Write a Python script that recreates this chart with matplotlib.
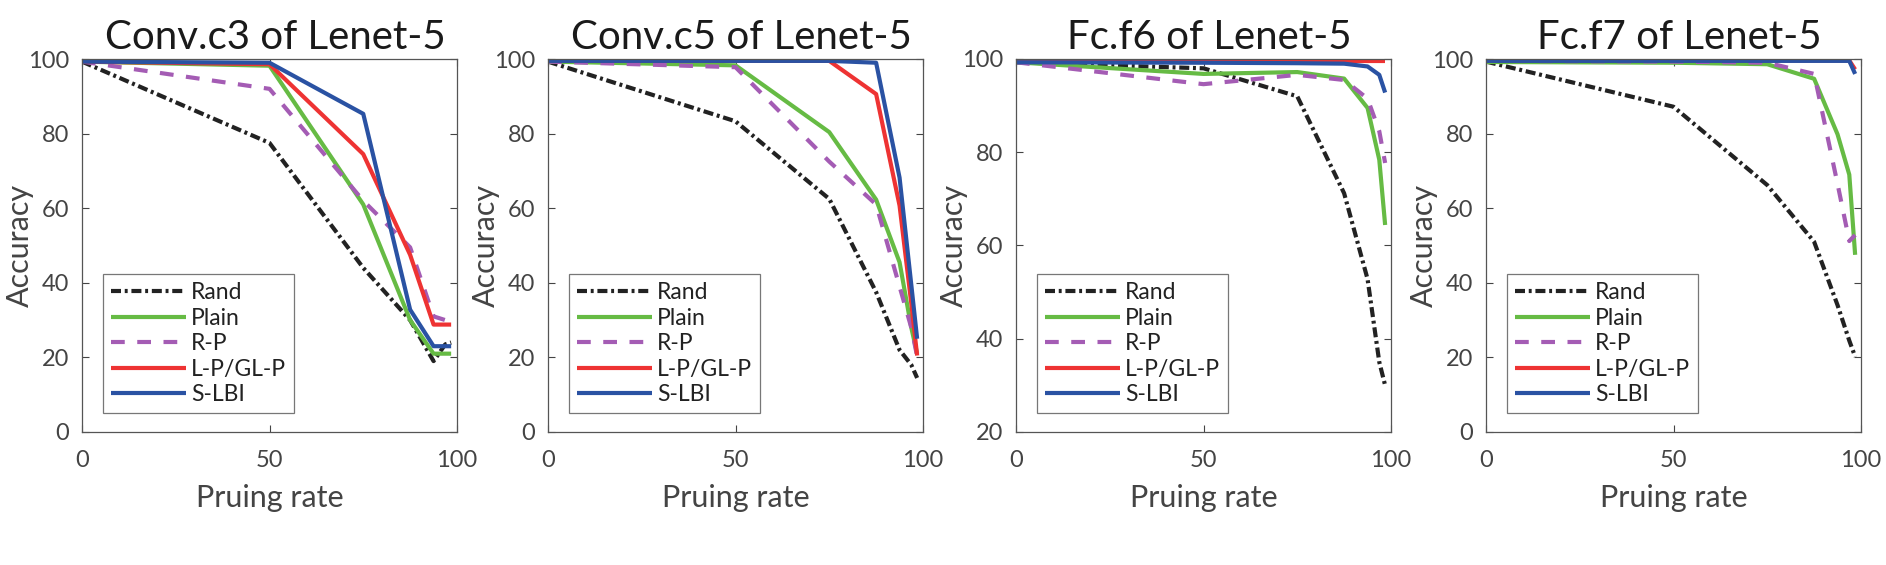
import matplotlib
matplotlib.use("Agg")
import matplotlib.pyplot as plt

plt.rcParams['font.family'] = ['Lato', 'DejaVu Sans']

# ---------------- data ----------------
rates = [0, 50, 75, 87.5, 93.75, 96.875, 98.4375]
titles = ["Conv.c3 of Lenet-5", "Conv.c5 of Lenet-5", "Fc.f6 of Lenet-5", "Fc.f7 of Lenet-5"]
methods = ["Rand", "Plain", "R-P", "L-P/GL-P", "S-LBI"]

# panel 1: Conv.c3
c3_rand  = [99.3, 77.5, 44.0, 30.0, 19.0, 23.5, 24.0]
c3_plain = [99.3, 98.2, 61.0, 30.0, 21.0, 21.0, 21.0]
c3_rp    = [99.3, 92.0, 62.0, 49.5, 31.0, 30.0, 30.0]
c3_lp    = [99.3, 98.6, 74.5, 47.5, 28.8, 28.8, 28.8]
c3_slbi  = [99.3, 99.0, 85.3, 32.8, 23.0, 23.0, 23.0]

# panel 2: Conv.c5
c5_rand  = [99.3, 83.3, 62.5, 37.5, 22.0, 18.0, 14.5]
c5_plain = [99.3, 98.3, 80.4, 62.3, 45.5, 28.0, 21.0]
c5_rp    = [99.3, 97.8, 72.5, 61.0, 39.0, 28.0, 20.3]
c5_lp    = [99.5, 99.5, 99.5, 90.6, 60.7, 34.5, 20.5]
c5_slbi  = [99.5, 99.5, 99.5, 99.0, 68.2, 39.5, 25.0]

# panel 3: Fc.f6
f6_rand  = [99.3, 98.0, 92.0, 71.2, 52.8, 35.0, 30.0]
f6_plain = [99.3, 96.8, 97.2, 95.8, 89.5, 78.4, 64.4]
f6_rp    = [99.3, 94.6, 96.6, 95.5, 91.5, 84.5, 77.7]
f6_lp    = [99.6, 99.6, 99.6, 99.6, 99.6, 99.6, 99.6]
f6_slbi  = [99.3, 99.2, 99.1, 99.0, 98.4, 96.6, 92.8]

# panel 4: Fc.f7
f7_rand  = [99.3, 87.2, 66.2, 51.0, 34.0, 24.5, 20.2]
f7_plain = [99.2, 99.0, 98.6, 94.7, 79.8, 69.0, 47.5]
f7_rp    = [99.5, 99.3, 99.0, 96.0, 66.5, 51.2, 52.8]
f7_lp    = [99.6, 99.6, 99.6, 99.6, 99.6, 99.6, 97.2]
f7_slbi  = [99.5, 99.5, 99.5, 99.5, 99.5, 99.5, 96.0]

panels = [
    [c3_rand, c3_plain, c3_rp, c3_lp, c3_slbi],
    [c5_rand, c5_plain, c5_rp, c5_lp, c5_slbi],
    [f6_rand, f6_plain, f6_rp, f6_lp, f6_slbi],
    [f7_rand, f7_plain, f7_rp, f7_lp, f7_slbi],
]
ylims = [(0, 100), (0, 100), (20, 100), (0, 100)]

# ---------------- style ----------------
colors = ["#222222", "#66bb44", "#a45cb4", "#ee3333", "#2a52a3"]
styles = [(0, (2.4, 0.9, 0.7, 0.9)), "-", (0, (3.3, 3.0)), "-", "-"]
lw = 3.0
gray = "#444444"

fig = plt.figure(figsize=(18.86, 5.65), dpi=100)
lefts = [82, 548, 1016, 1486]
for i, left in enumerate(lefts):
    ax = fig.add_axes([left / 1886, (565 - 432) / 565, 375 / 1886, 373 / 565])
    for j, series in enumerate(panels[i]):
        ax.plot(rates, series, color=colors[j], linestyle=styles[j], lw=lw,
                label=methods[j], solid_capstyle='butt', dash_capstyle='butt')
    ax.set_xlim(0, 100)
    ax.set_ylim(*ylims[i])
    ax.set_xticks([0, 50, 100])
    lo, hi = ylims[i]
    ax.set_yticks(list(range(lo, hi + 1, 20)))
    ax.tick_params(direction='in', top=True, right=True, length=5, width=0.8,
                   colors=gray, labelsize=17, pad=9, labelcolor=gray)
    ax.tick_params(axis='x', pad=13)
    for s in ax.spines.values():
        s.set_color("#555555")
        s.set_linewidth(0.9)
    ax.set_title(titles[i], fontsize=29, color="#1a1a1a", pad=7, x=0.516)
    ax.set_xlabel("Pruing rate", fontsize=22, color=gray, labelpad=9)
    ax.set_ylabel("Accuracy", fontsize=22, color=gray)
    ax.yaxis.set_label_coords(-0.128, 0.5)
    leg = ax.legend(loc='lower left', bbox_to_anchor=(0.055, 0.05), fontsize=16.5,
                    frameon=True, fancybox=False, handlelength=3.3,
                    labelspacing=0.2, handletextpad=0.2, borderpad=0.35,
                    borderaxespad=0.0)
    leg.get_frame().set_edgecolor("#555555")
    leg.get_frame().set_linewidth(0.9)
    for t in leg.get_texts():
        t.set_color("#222222")

fig.savefig("out.png", dpi=100)
